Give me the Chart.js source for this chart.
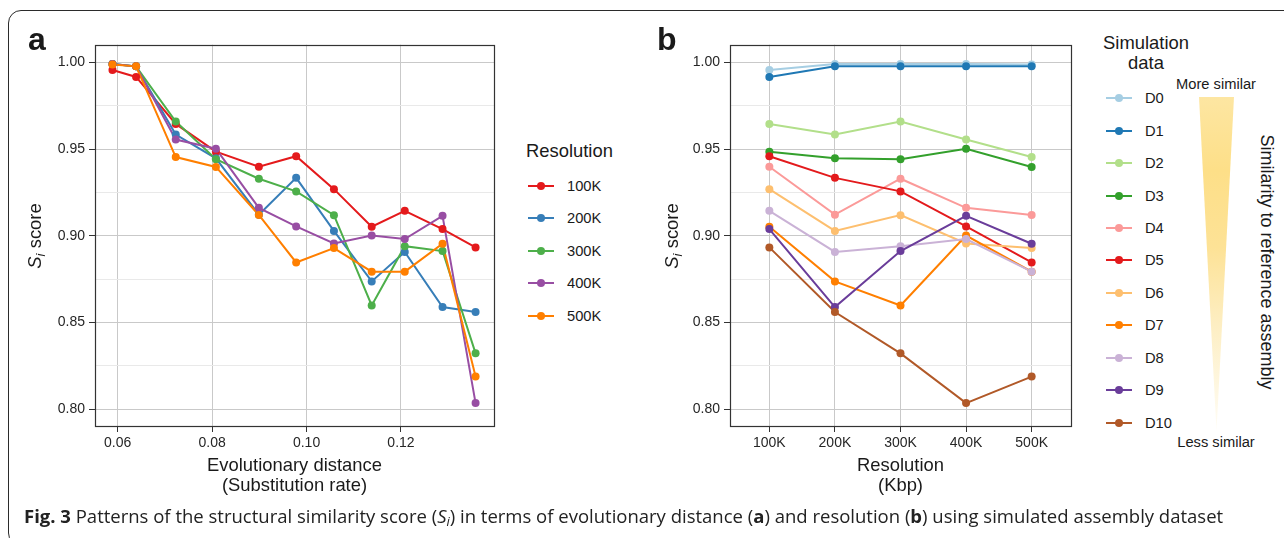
<!DOCTYPE html>
<html><head><meta charset="utf-8">
<script src="https://cdn.jsdelivr.net/npm/chart.js@4.4.1/dist/chart.umd.min.js"></script>
<style>
html,body{margin:0;padding:0;background:#fff;}
body{width:1284px;height:538px;overflow:hidden;position:relative;font-family:'Liberation Sans',Arial,Helvetica,sans-serif;color:#1a1a1a;}
.abs{position:absolute;white-space:nowrap;line-height:1;}
#frame{position:absolute;left:8px;top:10px;width:1330px;height:536px;border:1.5px solid #2b2b2b;border-radius:13px;box-sizing:border-box;}
canvas{position:absolute;top:0;}
.ptitle{font-weight:bold;font-size:32px;}
.ytitle{font-size:18.4px;transform:translate(-50%,-50%) rotate(-90deg);}
.ytitle sub{font-size:0.72em;vertical-align:-0.28em;line-height:0;}
.legtitle{font-size:18.4px;}
.legitem{font-size:14.7px;}
.gl{position:absolute;height:2px;}
.gd{position:absolute;width:8px;height:8px;border-radius:50%;}
#tri{position:absolute;left:1199px;top:97px;width:35px;height:334px;clip-path:polygon(0 0,100% 0,50% 100%);
 background:linear-gradient(to bottom,#fde6a2 0%,#fddf88 22%,#fde296 45%,#fdefc6 70%,#fffdf6 100%);}
#cap{font-family:'Open Sans','Noto Sans',sans-serif;color:#222;line-height:1.2;}
#cap sub{font-size:0.7em;vertical-align:-0.25em;line-height:0;}
</style></head>
<body>
<div id="frame"></div>
<canvas id="cA" width="520" height="538" style="left:0px"></canvas>
<canvas id="cB" width="460" height="538" style="left:640px"></canvas>

<div class="abs ptitle" style="left:28px;top:23px;">a</div>
<div class="abs ptitle" style="left:657px;top:23px;">b</div>
<div class="abs ytitle" style="left:35px;top:236px;"><i>S<sub>i</sub></i> score</div>
<div class="abs ytitle" style="left:672px;top:236px;"><i>S<sub>i</sub></i> score</div>

<div id="legA"></div>
<div id="legB"></div>

<div id="tri"></div>
<div class="abs legitem" style="left:1216px;top:83.5px;transform:translate(-50%,-50%);">More similar</div>
<div class="abs legitem" style="left:1216px;top:442px;transform:translate(-50%,-50%);">Less similar</div>
<div class="abs" style="left:1267px;top:262px;font-size:18px;transform:translate(-50%,-50%) rotate(90deg);">Similarity to reference assembly</div>

<div id="cap" class="abs" style="left:24px;top:516px;transform:translateY(-50%);"><b>Fig. 3</b> Patterns of the structural similarity score (<i>S<sub>i</sub></i>) in terms of evolutionary distance (<b>a</b>) and resolution (<b>b</b>) using simulated assembly dataset</div>

<script>
// ---------------- data ----------------
const resolutions = ['100K', '200K', '300K', '400K', '500K'];
const datasetsD = ['D0','D1','D2','D3','D4','D5','D6','D7','D8','D9','D10'];
// evolutionary distance (substitution rate) of D0..D10
const distances = [0.0589, 0.0639, 0.0723, 0.0808, 0.0899, 0.0978, 0.1058, 0.1138, 0.1208, 0.1288, 0.1358];
// S_i score for D0..D10 at each resolution
const score100K = [0.9956, 0.9916, 0.9645, 0.9485, 0.9398, 0.9459, 0.9269, 0.9052, 0.9144, 0.9039, 0.8933];
const score200K = [0.9990, 0.9977, 0.9584, 0.9447, 0.9122, 0.9334, 0.9028, 0.8737, 0.8907, 0.8589, 0.8560];
const score300K = [0.9990, 0.9977, 0.9659, 0.9442, 0.9329, 0.9256, 0.9119, 0.8598, 0.8940, 0.8912, 0.8322];
const score400K = [0.9990, 0.9977, 0.9555, 0.9502, 0.9161, 0.9054, 0.8956, 0.9001, 0.8981, 0.9115, 0.8035];
const score500K = [0.9988, 0.9977, 0.9454, 0.9397, 0.9120, 0.8846, 0.8929, 0.8793, 0.8793, 0.8954, 0.8188];
const scores = [score100K, score200K, score300K, score400K, score500K];
// ticks
const yMajorTicks = [0.80, 0.85, 0.90, 0.95, 1.00];
const yMinorTicks = [0.825, 0.875, 0.925, 0.975];
const xTicksA = [0.06, 0.08, 0.10, 0.12];
const xTicksB = [1, 2, 3, 4, 5];
// colours
const colorsA = ['#E41A1C', '#377EB8', '#4DAF4A', '#984EA3', '#FF7F00'];
const colorsB = ['#A6CEE3', '#1F78B4', '#B2DF8A', '#33A02C', '#FB9A99', '#E31A1C', '#FDBF6F', '#FF7F00', '#CAB2D6', '#6A3D9A', '#B15928'];

// ---------------- helpers ----------------
const FONT = "'Liberation Sans', Arial, Helvetica, sans-serif";
const GRID_MAJOR = '#c9c9c9';
const GRID_MINOR = '#e9e9e9';
const isMajorY = v => Math.abs(v / 0.05 - Math.round(v / 0.05)) < 1e-6;

const boxPlugin = {
  id: 'panelBox',
  afterDraw(chart) {
    const a = chart.chartArea, ctx = chart.ctx;
    ctx.save();
    ctx.strokeStyle = '#333';
    ctx.lineWidth = 1.2;
    ctx.strokeRect(Math.round(a.left) + 0.5, Math.round(a.top) + 0.5, Math.round(a.right - a.left), Math.round(a.bottom - a.top));
    ctx.restore();
  }
};

function yScale(width) {
  return {
    type: 'linear', min: 0.7903, max: 1.0102,
    afterFit: s => { s.width = width; },
    afterBuildTicks: s => { s.ticks = yMajorTicks.concat(yMinorTicks).sort((a,b)=>a-b).map(v => ({value: v})); },
    ticks: { autoSkip: false, padding: 4, color: '#262626', font: {family: FONT, size: 14},
             callback: v => isMajorY(v) ? v.toFixed(2) : '' },
    grid: { color: c => isMajorY(c.tick.value) ? GRID_MAJOR : GRID_MINOR,
            tickColor: c => isMajorY(c.tick.value) ? '#333' : 'rgba(0,0,0,0)',
            tickLength: 6, lineWidth: 1 },
    border: { display: false },
    title: { display: false }
  };
}

function xScale(min, max, ticks, fmt, titleLines) {
  return {
    type: 'linear', min: min, max: max,
    afterFit: s => { s.height = 112; },
    afterBuildTicks: s => { s.ticks = ticks.map(v => ({value: v})); },
    ticks: { autoSkip: false, maxRotation: 0, padding: 3, color: '#262626', font: {family: FONT, size: 14}, callback: fmt },
    grid: { color: GRID_MAJOR, tickColor: '#333', tickLength: 6, lineWidth: 1 },
    border: { display: false },
    title: { display: true, text: titleLines, color: '#1a1a1a', font: {family: FONT, size: 18.4, lineHeight: 1.1}, padding: {top: 0, bottom: 41.9} }
  };
}

function seriesPair(points, color, idx, n) {
  return [
    { data: points, borderColor: color, backgroundColor: color, borderWidth: 2, pointRadius: 0, tension: 0, order: 1000 - idx },
    { data: points, showLine: false, borderColor: color, backgroundColor: color, pointBackgroundColor: color,
      pointBorderWidth: 0, pointRadius: 4, order: 500 - idx }
  ];
}

const common = {
  responsive: false, animation: false, events: [],
  plugins: { legend: { display: false }, tooltip: { enabled: false } },
  parsing: true
};

// ---------------- panel a ----------------
const dsA = [];
resolutions.forEach((r, i) => {
  const pts = distances.map((d, j) => ({x: d, y: scores[i][j]}));
  dsA.push(...seriesPair(pts, colorsA[i], i));
});
new Chart(document.getElementById('cA'), {
  type: 'line',
  data: { datasets: dsA },
  options: Object.assign({}, common, {
    layout: { padding: { left: 0, top: 44.7, right: 26, bottom: 0 } },
    scales: {
      x: xScale(0.0552, 0.1397, xTicksA, v => v.toFixed(2), ['Evolutionary distance', '(Substitution rate)']),
      y: yScale(95)
    }
  }),
  plugins: [boxPlugin]
});

// ---------------- panel b ----------------
const dsB = [];
datasetsD.forEach((d, k) => {
  const pts = resolutions.map((r, i) => ({x: i + 1, y: scores[i][k]}));
  dsB.push(...seriesPair(pts, colorsB[k], k));
});
new Chart(document.getElementById('cB'), {
  type: 'line',
  data: { datasets: dsB },
  options: Object.assign({}, common, {
    layout: { padding: { left: 0, top: 44.7, right: 29, bottom: 0 } },
    scales: {
      x: xScale(0.4, 5.6, xTicksB, v => resolutions[Math.round(v) - 1] || '', ['Resolution', '(Kbp)']),
      y: yScale(90)
    }
  }),
  plugins: [boxPlugin]
});

// ---------------- legends (HTML) ----------------
function buildLegend(el, titleHtml, titleStyle, labels, colors, x0, y0, dy, labelX) {
  let h = `<div class="abs legtitle" style="${titleStyle}">${titleHtml}</div>`;
  labels.forEach((lab, i) => {
    const y = y0 + dy * i;
    h += `<div class="gl" style="left:${x0}px;top:${y - 1}px;width:26px;background:${colors[i]}"></div>`;
    h += `<div class="gd" style="left:${x0 + 9}px;top:${y - 4}px;background:${colors[i]}"></div>`;
    h += `<div class="abs legitem" style="left:${labelX}px;top:${y}px;transform:translateY(-50%);">${lab}</div>`;
  });
  el.innerHTML = h;
}
buildLegend(document.getElementById('legA'), 'Resolution', 'left:526px;top:150.7px;transform:translateY(-50%);',
  resolutions, colorsA, 528, 185.7, 32.5, 567);
buildLegend(document.getElementById('legB'), 'Simulation<br>data', 'left:1146px;top:53px;transform:translate(-50%,-50%);text-align:center;line-height:20px;',
  datasetsD, colorsB, 1106, 98.3, 32.43, 1145);

// ---------------- caption fit ----------------
const cap = document.getElementById('cap');
cap.style.fontSize = '17px';
const w = cap.getBoundingClientRect().width;
cap.style.fontSize = (17 * 1200 / w) + 'px';
</script>
</body></html>
